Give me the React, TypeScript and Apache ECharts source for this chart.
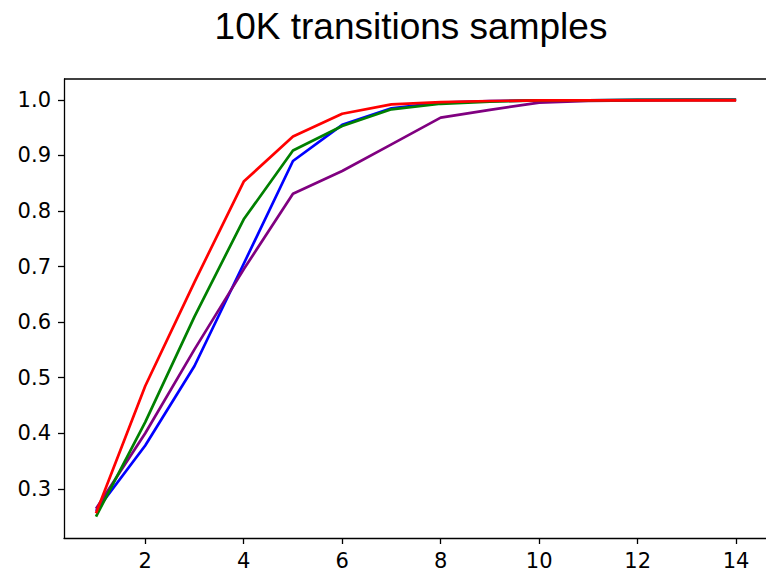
import React, { useEffect, useRef } from "react";
import * as echarts from "echarts";

const xValues = [1, 2, 3, 4, 5, 6, 7, 8, 9, 10, 11, 12, 13, 14];
const blueValues = [0.26, 0.378, 0.521, 0.705, 0.89, 0.955, 0.985, 0.995, 0.998, 0.999, 0.999, 1.0, 1.0, 1.0];
const purpleValues = [0.264, 0.4, 0.551, 0.695, 0.831, 0.872, 0.92, 0.968, 0.982, 0.995, 0.998, 0.999, 1.0, 1.0];
const greenValues = [0.25, 0.42, 0.61, 0.785, 0.909, 0.953, 0.983, 0.993, 0.997, 0.999, 0.999, 1.0, 1.0, 1.0];
const redValues = [0.256, 0.485, 0.672, 0.853, 0.934, 0.975, 0.992, 0.996, 0.998, 0.999, 0.999, 0.999, 0.999, 0.999];
const xTicks = [2, 4, 6, 8, 10, 12, 14];
const yTicks = [0.3, 0.4, 0.5, 0.6, 0.7, 0.8, 0.9, 1.0];
const titleText = "10K transitions samples";

const seriesDefs = [
  { name: "blue", color: "#0000ff", values: blueValues },
  { name: "purple", color: "#800080", values: purpleValues },
  { name: "green", color: "#008000", values: greenValues },
  { name: "red", color: "#ff0000", values: redValues },
];

export default function App() {
  const ref = useRef<HTMLDivElement>(null);
  useEffect(() => {
    if (!ref.current) return;
    const chart = echarts.init(ref.current, null, { renderer: "svg" });
    const tickFont = "'DejaVu Sans', Verdana, sans-serif";
    const spine = { color: "#000", width: 1.3 };
    const xMin = 0.35;
    const xMax = 14.81;
    chart.setOption({
      animation: false,
      backgroundColor: "#ffffff",
      title: {
        text: titleText,
        left: 406,
        top: 3,
        textAlign: "center",
        textStyle: {
          fontFamily: "'Liberation Sans', Arial, sans-serif",
          fontSize: 37,
          fontWeight: "normal",
          color: "#000",
        },
      },
      graphic: [
        {
          type: "line",
          shape: { x1: 64, y1: 79, x2: 770, y2: 79 },
          style: { stroke: "#000", lineWidth: 1.3 },
          silent: true,
        },
      ],
      grid: {
        left: 64,
        top: 79,
        right: -10,
        height: 459,
        show: false,
        outerBoundsMode: "none",
        containLabel: false,
      },
      xAxis: {
        type: "value",
        min: xMin,
        max: xMax,
        splitLine: { show: false },
        axisLine: { show: true, onZero: false, lineStyle: spine },
        axisTick: {
          show: true,
          inside: false,
          length: 6,
          customValues: xTicks,
          lineStyle: spine,
        },
        axisLabel: {
          customValues: xTicks,
          margin: 12,
          fontFamily: tickFont,
          fontSize: 21,
          color: "#000",
        },
      },
      yAxis: {
        type: "value",
        min: 0.2114,
        max: 1.0376,
        splitLine: { show: false },
        axisLine: { show: true, onZero: false, lineStyle: spine },
        axisTick: {
          show: true,
          inside: false,
          length: 6,
          customValues: yTicks,
          lineStyle: spine,
        },
        axisLabel: {
          customValues: yTicks,
          margin: 13,
          fontFamily: tickFont,
          fontSize: 21,
          color: "#000",
          formatter: (v: number) => v.toFixed(1),
        },
      },
      series: seriesDefs.map((s) => ({
        name: s.name,
        type: "line",
        data: xValues.map((x, i) => [x, s.values[i]]),
        showSymbol: false,
        symbol: "none",
        lineStyle: { color: s.color, width: 2.7 },
        itemStyle: { color: s.color },
        clip: false,
      })),
    });
    return () => chart.dispose();
  }, []);
  return (
    <div
      ref={ref}
      style={{ position: "fixed", left: 0, top: 0, width: 766, height: 572, overflow: "hidden" }}
    />
  );
}
